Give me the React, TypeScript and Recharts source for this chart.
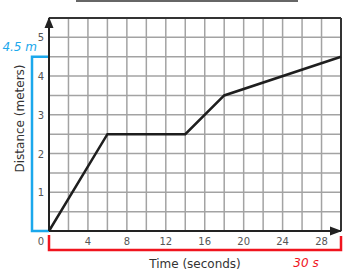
import React from 'react';
import {
  LineChart,
  Line,
  XAxis,
  YAxis,
  CartesianGrid,
  ReferenceLine,
  ReferenceDot,
} from 'recharts';

const times = [0, 6, 14, 18, 30];
const distances = [0, 2.5, 2.5, 3.5, 4.5];

const xTicks = [0, 2, 4, 6, 8, 10, 12, 14, 16, 18, 20, 22, 24, 26, 28, 30];
const yTicks = [0, 0.5, 1, 1.5, 2, 2.5, 3, 3.5, 4, 4.5, 5, 5.5];
const xLabelTicks = [0, 4, 8, 12, 16, 20, 24, 28];
const yLabelTicks = [1, 2, 3, 4, 5];

const totalTime = 30;
const totalDistance = 4.5;
const xMax = 30;
const yMax = 5.5;

const data = times.map((t, i) => ({ time: t, distance: distances[i] }));

const FONT = '"DejaVu Sans", Verdana, sans-serif';
const BLUE = '#1ba8ec';
const RED = '#f0141e';

const XTick = (props: any) => {
  const { x, y, payload } = props;
  const v = payload.value;
  if (!xLabelTicks.includes(v)) return null;
  return (
    <text x={v === 0 ? x - 8 : x} y={y} dy={9} textAnchor="middle" fontSize={10} fill="#555" fontFamily={FONT}>
      {v}
    </text>
  );
};

const YTick = (props: any) => {
  const { x, y, payload } = props;
  const v = payload.value;
  if (!yLabelTicks.includes(v)) return null;
  return (
    <text x={x} y={y} dy={4} textAnchor="end" fontSize={10} fill="#555" fontFamily={FONT}>
      {v}
    </text>
  );
};

const DistanceBracket = (props: any) => {
  const { x1, y1, y2 } = props;
  const top = Math.min(y1, y2);
  const bottom = Math.max(y1, y2);
  const left = x1 - 17;
  return (
    <g>
      <path d={`M${x1},${top} L${left},${top} L${left},${bottom} L${x1},${bottom}`} fill="none" stroke={BLUE} strokeWidth={2.5} />
      <text x={left + 5} y={top - 6} textAnchor="end" fontSize={12} fontStyle="italic" fill={BLUE} fontFamily={FONT}>
        {`${totalDistance} m`}
      </text>
    </g>
  );
};

const TimeBracket = (props: any) => {
  const { x1, y1, x2 } = props;
  const low = y1 + 19;
  return (
    <g>
      <path d={`M${x1},${y1 + 4} L${x1},${low} L${x2},${low} L${x2},${y1 + 5}`} fill="none" stroke={RED} strokeWidth={2.5} />
      <text x={x2 - 35} y={low + 17} textAnchor="middle" fontSize={12} fontStyle="italic" fill={RED} fontFamily={FONT}>
        {`${totalTime} s`}
      </text>
    </g>
  );
};

const UpArrow = (props: any) => {
  const { cx, cy } = props;
  return <path d={`M${cx},${cy - 1} L${cx - 4.5},${cy + 10} L${cx + 4.5},${cy + 10} Z`} fill="#222" />;
};

const RightArrow = (props: any) => {
  const { cx, cy } = props;
  return <path d={`M${cx + 1},${cy} L${cx - 11},${cy - 4.5} L${cx - 11},${cy + 4.5} Z`} fill="#222" />;
};

const YLabel = (props: any) => {
  const { viewBox } = props;
  const cx = viewBox.x + 20;
  const cy = viewBox.y + viewBox.height / 2 - 6;
  return (
    <text x={cx} y={cy} transform={`rotate(-90, ${cx}, ${cy})`} textAnchor="middle" dominantBaseline="central" fontSize={12} fill="#333" fontFamily={FONT}>
      Distance (meters)
    </text>
  );
};

export default function App() {
  return (
    <div style={{ position: 'absolute', left: 0, top: 0, width: 360, height: 277, background: '#fff' }}>
      <div style={{ position: 'absolute', left: 76, top: 0, width: 222, height: 2, background: '#666' }} />
      <LineChart width={360} height={277} data={data} margin={{ top: 18, right: 19, left: 0, bottom: 0 }}>
        <CartesianGrid stroke="#a3a3a3" strokeWidth={1.5} horizontalValues={yTicks} verticalValues={xTicks} />
        <XAxis
          dataKey="time"
          type="number"
          domain={[0, xMax]}
          ticks={xTicks}
          interval={0}
          height={46}
          tickLine={false}
          tickSize={3}
          tickMargin={2}
          axisLine={{ stroke: '#222', strokeWidth: 2 }}
          tick={<XTick />}
          label={{ value: 'Time (seconds)', position: 'insideBottom', offset: 9, fontSize: 12, fill: '#333', fontFamily: FONT }}
        />
        <YAxis
          type="number"
          domain={[0, yMax]}
          ticks={yTicks}
          interval={0}
          width={49}
          tickLine={false}
          tickSize={3}
          tickMargin={2}
          axisLine={{ stroke: '#222', strokeWidth: 2 }}
          tick={<YTick />}
          label={<YLabel />}
        />
        <ReferenceLine y={yMax} stroke="#333" strokeWidth={2} />
        <ReferenceLine x={xMax} stroke="#333" strokeWidth={2} />
        <ReferenceLine
          segment={[{ x: 0, y: 0 }, { x: 0, y: totalDistance }]}
          ifOverflow="visible"
          shape={<DistanceBracket />}
        />
        <ReferenceLine
          segment={[{ x: 0, y: 0 }, { x: totalTime, y: 0 }]}
          ifOverflow="visible"
          shape={<TimeBracket />}
        />
        <Line
          type="linear"
          dataKey="distance"
          stroke="#1e1e1e"
          strokeWidth={2.5}
          dot={false}
          activeDot={false}
          isAnimationActive={false}
        />
        <ReferenceDot x={0} y={yMax} ifOverflow="visible" shape={<UpArrow />} />
        <ReferenceDot x={xMax} y={0} ifOverflow="visible" shape={<RightArrow />} />
      </LineChart>
    </div>
  );
}
